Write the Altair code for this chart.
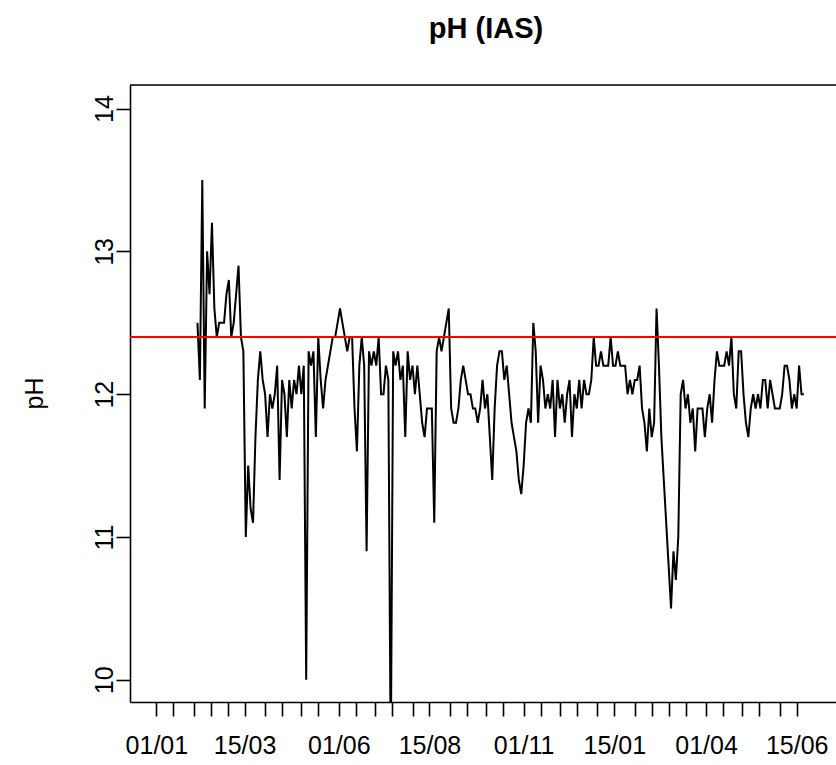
import altair as alt
import pandas as pd

# ---- data (pH readings, every 2 days) ----
START_DAY = 34      # days after 1 January of the first year (first reading, early February)
STEP_DAYS = 2
ph_values = [
    12.5, 12.1, 13.5, 11.9, 13.0, 12.7, 13.2, 12.6, 12.4, 12.5,
    12.5, 12.5, 12.7, 12.8, 12.4, 12.5, 12.7, 12.9, 12.4, 12.3,
    11.0, 11.5, 11.2, 11.1, 11.7, 12.1, 12.3, 12.1, 12.0, 11.7,
    12.0, 11.9, 12.0, 12.2, 11.4, 12.1, 12.0, 11.7, 12.1, 11.9,
    12.1, 12.0, 12.2, 12.0, 12.2, 10.0, 12.3, 12.2, 12.3, 11.7,
    12.4, 12.1, 11.9, 12.1, 12.2, 12.3, 12.4, 12.4, 12.5, 12.6,
    12.5, 12.4, 12.3, 12.4, 12.4, 11.9, 11.6, 12.2, 12.4, 12.2,
    10.9, 12.3, 12.2, 12.3, 12.2, 12.4, 12.0, 12.0, 12.2, 12.1,
    9.4, 12.3, 12.2, 12.3, 12.1, 12.2, 11.7, 12.3, 12.1, 12.2,
    12.0, 12.2, 12.0, 11.8, 11.7, 11.9, 11.9, 11.9, 11.1, 12.3,
    12.4, 12.3, 12.4, 12.5, 12.6, 11.9, 11.8, 11.8, 11.9, 12.1,
    12.2, 12.1, 12.0, 12.0, 11.9, 11.9, 11.8, 11.9, 12.1, 11.9,
    12.0, 11.7, 11.4, 11.9, 12.2, 12.3, 12.3, 12.1, 12.2, 12.0,
    11.8, 11.7, 11.6, 11.4, 11.3, 11.5, 11.8, 11.9, 11.8, 12.5,
    12.3, 11.8, 12.2, 12.1, 11.9, 12.0, 11.9, 12.1, 11.7, 12.1,
    11.9, 12.0, 11.8, 12.0, 12.1, 11.7, 12.0, 11.9, 12.1, 11.9,
    12.1, 12.0, 12.0, 12.1, 12.4, 12.2, 12.2, 12.3, 12.2, 12.2,
    12.2, 12.4, 12.2, 12.2, 12.3, 12.2, 12.2, 12.2, 12.0, 12.1,
    12.0, 12.1, 12.1, 12.2, 11.9, 11.8, 11.6, 11.9, 11.7, 11.8,
    12.6, 12.2, 11.7, 11.4, 11.1, 10.8, 10.5, 10.9, 10.7, 11.0,
    12.0, 12.1, 11.9, 12.0, 11.8, 11.9, 11.6, 11.9, 11.9, 11.9,
    11.7, 11.9, 12.0, 11.8, 12.1, 12.3, 12.2, 12.2, 12.2, 12.3,
    12.2, 12.4, 12.0, 11.9, 12.3, 12.3, 12.0, 11.8, 11.7, 11.9,
    12.0, 11.9, 12.0, 11.9, 12.1, 12.1, 11.9, 12.1, 12.0, 11.9,
    11.9, 11.9, 12.0, 12.2, 12.2, 12.1, 11.9, 12.0, 11.9, 12.2,
    12.0, 12.0,
]
threshold = [12.4]

# x axis ticks: 1st and 15th of each month (days after 1 Jan, first year)
tick_days = [0, 14, 31, 45, 59, 73, 90, 104, 120, 134, 151, 165, 181, 195,
             212, 226, 243, 257, 273, 287, 304, 318, 334, 348, 365, 379,
             396, 410, 424, 438, 455, 469, 485, 499, 516, 530]
label_days = [0, 73, 151, 226, 304, 379, 455, 530]
label_text = ["01/01", "15/03", "01/06", "15/08", "01/11", "15/01", "01/04", "15/06"]
y_ticks = [10, 11, 12, 13, 14]

X_DOMAIN = [-21.84, 562.55]
Y_DOMAIN = [9.845, 14.165]
W, H = 706, 617
FONT = "Liberation Sans"

df = pd.DataFrame({
    "day": [START_DAY + STEP_DAYS * i for i in range(len(ph_values))],
    "ph": ph_values,
})
df_thr = pd.DataFrame({"ph": threshold})

label_expr = ""
for d, t in zip(label_days, label_text):
    label_expr += f"datum.value == {d} ? '{t}' : "
label_expr += "''"

x_scale = alt.Scale(domain=X_DOMAIN, nice=False, zero=False)
y_scale = alt.Scale(domain=Y_DOMAIN, nice=False, zero=False)

x_axis = alt.Axis(
    values=tick_days, labelExpr=label_expr, labelOverlap=False, labelFlush=False,
    tickSize=14, tickWidth=1.6, tickColor="black",
    domainColor="black", domainWidth=1.6,
    labelFont=FONT, labelFontSize=25, labelColor="black", labelPadding=17,
    labelAlign="center", labelBaseline="top", grid=False, title=None,
)
y_axis = alt.Axis(
    values=y_ticks, format="d", labelAngle=270, labelAlign="center",
    labelBaseline="alphabetic",
    labelPadding=4, labelFont=FONT, labelFontSize=25, labelColor="black",
    tickSize=14, tickWidth=1.6, tickColor="black",
    domainColor="black", domainWidth=1.6, grid=False,
    title="pH", titleFont=FONT, titleFontSize=25, titleFontWeight="normal",
    titleColor="black", titleAngle=270, titleX=-96, titleY=308,
    titleAlign="center", titleBaseline="middle",
)

top_border = alt.Chart(df_thr).mark_rule(color="black", strokeWidth=1.6).encode(
    x=alt.value(0), x2=alt.value(W), y=alt.value(0)
)

line = alt.Chart(df).mark_line(color="black", strokeWidth=2.0, clip=True,
                               strokeJoin="miter").encode(
    x=alt.X("day:Q", scale=x_scale, axis=x_axis),
    y=alt.Y("ph:Q", scale=y_scale, axis=y_axis),
)

red = alt.Chart(df_thr).mark_rule(color="#FF0000", strokeWidth=2).encode(
    y=alt.Y("ph:Q", scale=y_scale)
)

chart = alt.layer(line, red, top_border).properties(
    width=W, height=H,
    title=alt.TitleParams("pH (IAS)", font=FONT, fontSize=29, fontWeight="bold",
                          anchor="middle", offset=40, color="black", dx=3),
    padding={"left": 130, "top": 85, "right": 0, "bottom": 63},
    autosize="none",
).configure_view(stroke=None).configure(background="white")

chart.save("out.html", embed_options={"renderer": "svg", "actions": False})
